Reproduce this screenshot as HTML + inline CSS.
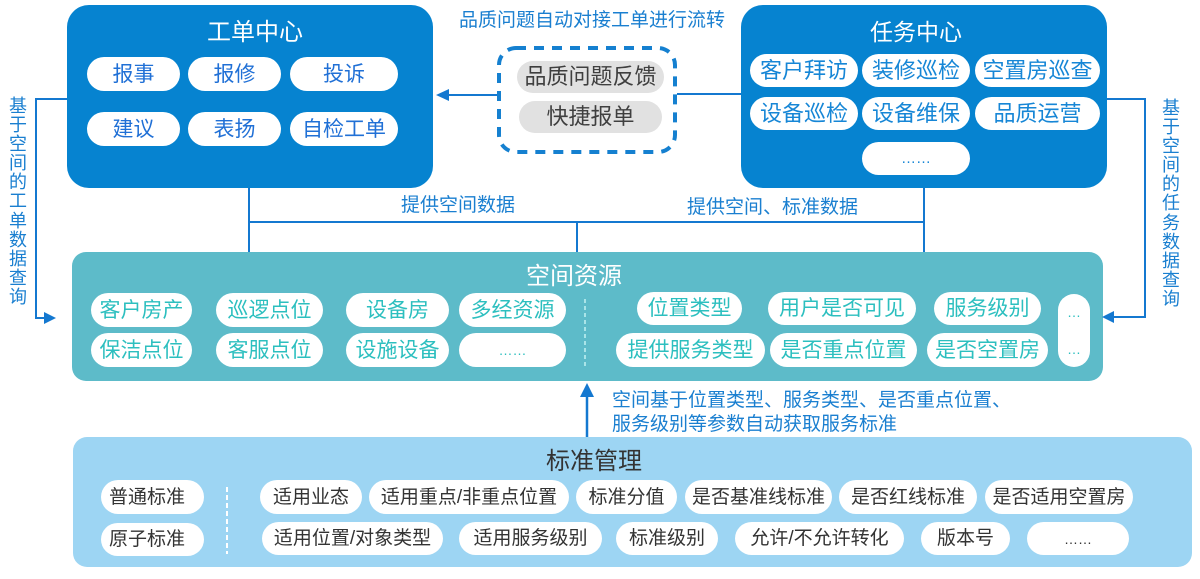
<!DOCTYPE html>
<html lang="zh-CN">
<head>
<meta charset="utf-8">
<style>
  html,body{margin:0;padding:0;background:#fff;}
  #c{position:relative;width:1200px;height:579px;overflow:hidden;background:#fff;
     font-family:"Liberation Sans","Noto Sans CJK SC",sans-serif;}
  .box{position:absolute;}
  .p{position:absolute;display:flex;align-items:center;justify-content:center;
     background:#fff;border-radius:999px;white-space:nowrap;line-height:1;}
  .t{position:absolute;display:flex;align-items:center;justify-content:center;white-space:nowrap;line-height:1;}
  .wb .p{color:#2070d6;font-size:21px;}
  .tb .p{color:#1686d6;font-size:22px;}
  .gp{background:#e1e1e1 !important;color:#3f3f3f;font-size:22px;}
  .sp .p{color:#2cbfbf;font-size:21px;}
  .st .p{color:#333;font-size:19px;}
  .vt{position:absolute;width:22px;font-size:18px;line-height:19.1px;color:#1a7fd0;text-align:center;}
  .lbl{position:absolute;color:#1a7fd0;font-size:19px;line-height:1;white-space:nowrap;}
  svg{position:absolute;left:0;top:0;}
</style>
</head>
<body>
<div id="c">
  <!-- big boxes -->
  <div class="box" style="left:67px;top:5px;width:366px;height:183px;background:#0683d0;border-radius:22px;"></div>
  <div class="box" style="left:741px;top:5px;width:366px;height:183px;background:#0683d0;border-radius:22px;"></div>
  <div class="box" style="left:72px;top:252px;width:1031px;height:129px;background:#5dbbc9;border-radius:14px;"></div>
  <div class="box" style="left:73px;top:437px;width:1119px;height:130px;background:#9dd5f3;border-radius:14px;"></div>

  <svg width="1200" height="579" viewBox="0 0 1200 579">
    <g stroke="#1478d0" stroke-width="2" fill="none">
      <polyline points="67,99 36,99 36,318 46,318"/>
      <polyline points="1107,99 1145,99 1145,317 1112,317"/>
      <line x1="497" y1="95" x2="446" y2="95"/>
      <line x1="677" y1="94" x2="741" y2="94"/>
      <line x1="249" y1="188" x2="249" y2="252"/>
      <line x1="249" y1="222" x2="924" y2="222"/>
      <line x1="577" y1="222" x2="577" y2="252"/>
      <line x1="924" y1="188" x2="924" y2="252"/>
      <line x1="587" y1="437" x2="587" y2="394" stroke-width="2.5"/>
    </g>
    <g fill="#1478d0">
      <polygon points="56,318 44,312 44,324"/>
      <polygon points="1102,317 1114,311 1114,323"/>
      <polygon points="436,95 449,89 449,101"/>
      <polygon points="587,383 580,397 594,397"/>
    </g>
    <rect x="499" y="48" width="176" height="104" rx="17" ry="17" fill="none"
          stroke="#1580d0" stroke-width="4" stroke-dasharray="10 8"/>
    <line x1="585" y1="299" x2="585" y2="369" stroke="#a9e4e8" stroke-width="2" stroke-dasharray="4 3"/>
    <line x1="227" y1="487" x2="227" y2="554" stroke="#ffffff" stroke-width="2" stroke-dasharray="5 3"/>
  </svg>

  <!-- titles -->
  <div class="t" style="left:155px;top:20px;width:200px;height:26px;color:#fff;font-size:24px;">工单中心</div>
  <div class="t" style="left:816px;top:19px;width:200px;height:26px;color:#fff;font-size:23px;">任务中心</div>
  <div class="t" style="left:474px;top:264px;width:200px;height:26px;color:#fff;font-size:24px;">空间资源</div>
  <div class="t" style="left:494px;top:449px;width:200px;height:26px;color:#333;font-size:24px;">标准管理</div>

  <!-- labels -->
  <div class="lbl" style="left:459px;top:11px;">品质问题自动对接工单进行流转</div>
  <div class="lbl" style="left:401px;top:196px;font-size:19px;">提供空间数据</div>
  <div class="lbl" style="left:687px;top:198px;font-size:19px;">提供空间、标准数据</div>
  <div class="lbl" style="left:612px;top:391px;">空间基于位置类型、服务类型、是否重点位置、</div>
  <div class="lbl" style="left:612px;top:415px;">服务级别等参数自动获取服务标准</div>

  <div class="vt" style="left:7px;top:97px;">基<br>于<br>空<br>间<br>的<br>工<br>单<br>数<br>据<br>查<br>询</div>
  <div class="vt" style="left:1160px;top:99px;">基<br>于<br>空<br>间<br>的<br>任<br>务<br>数<br>据<br>查<br>询</div>

  <!-- 工单中心 pills -->
  <div class="wb">
    <div class="p" style="left:87px;top:57px;width:93px;height:34px;">报事</div>
    <div class="p" style="left:188px;top:57px;width:93px;height:34px;">报修</div>
    <div class="p" style="left:290px;top:57px;width:108px;height:34px;">投诉</div>
    <div class="p" style="left:87px;top:112px;width:93px;height:34px;">建议</div>
    <div class="p" style="left:188px;top:112px;width:93px;height:34px;">表扬</div>
    <div class="p" style="left:290px;top:112px;width:108px;height:34px;">自检工单</div>
  </div>

  <!-- 任务中心 pills -->
  <div class="tb">
    <div class="p" style="left:750px;top:54px;width:108px;height:33px;">客户拜访</div>
    <div class="p" style="left:862px;top:54px;width:108px;height:33px;">装修巡检</div>
    <div class="p" style="left:975px;top:54px;width:125px;height:33px;">空置房巡查</div>
    <div class="p" style="left:750px;top:97px;width:108px;height:33px;">设备巡检</div>
    <div class="p" style="left:862px;top:97px;width:108px;height:33px;">设备维保</div>
    <div class="p" style="left:975px;top:97px;width:125px;height:33px;">品质运营</div>
    <div class="p" style="left:862px;top:142px;width:108px;height:33px;font-size:15px;">……</div>
  </div>

  <!-- gray pills -->
  <div class="p gp" style="left:517px;top:61px;width:147px;height:32px;">品质问题反馈</div>
  <div class="p gp" style="left:519px;top:101px;width:143px;height:32px;">快捷报单</div>

  <!-- 空间资源 pills -->
  <div class="sp">
    <div class="p" style="left:91px;top:293px;width:101px;height:34px;">客户房产</div>
    <div class="p" style="left:216px;top:293px;width:107px;height:34px;">巡逻点位</div>
    <div class="p" style="left:346px;top:293px;width:103px;height:34px;">设备房</div>
    <div class="p" style="left:459px;top:293px;width:107px;height:34px;">多经资源</div>
    <div class="p" style="left:91px;top:333px;width:101px;height:34px;">保洁点位</div>
    <div class="p" style="left:216px;top:333px;width:107px;height:34px;">客服点位</div>
    <div class="p" style="left:346px;top:333px;width:103px;height:34px;">设施设备</div>
    <div class="p" style="left:459px;top:333px;width:107px;height:34px;font-size:14px;">……</div>

    <div class="p" style="left:637px;top:292px;width:105px;height:33px;">位置类型</div>
    <div class="p" style="left:768px;top:292px;width:148px;height:33px;">用户是否可见</div>
    <div class="p" style="left:934px;top:292px;width:107px;height:33px;">服务级别</div>
    <div class="p" style="left:616px;top:333px;width:149px;height:34px;">提供服务类型</div>
    <div class="p" style="left:770px;top:333px;width:147px;height:34px;">是否重点位置</div>
    <div class="p" style="left:927px;top:333px;width:121px;height:34px;">是否空置房</div>
    <div class="p" style="left:1058px;top:294px;width:32px;height:73px;border-radius:16px;flex-direction:column;justify-content:space-around;font-size:14px;">
      <span>…</span><span>…</span>
    </div>
  </div>

  <!-- 标准管理 pills -->
  <div class="st">
    <div class="p" style="left:101px;top:480px;width:103px;height:34px;justify-content:flex-start;padding-left:8px;box-sizing:border-box;">普通标准</div>
    <div class="p" style="left:101px;top:523px;width:103px;height:33px;justify-content:flex-start;padding-left:8px;box-sizing:border-box;">原子标准</div>

    <div class="p" style="left:260px;top:480px;width:102px;height:34px;">适用业态</div>
    <div class="p" style="left:369px;top:480px;width:200px;height:34px;">适用重点/非重点位置</div>
    <div class="p" style="left:576px;top:480px;width:101px;height:34px;">标准分值</div>
    <div class="p" style="left:685px;top:480px;width:147px;height:34px;">是否基准线标准</div>
    <div class="p" style="left:839px;top:480px;width:138px;height:34px;">是否红线标准</div>
    <div class="p" style="left:985px;top:480px;width:148px;height:34px;">是否适用空置房</div>

    <div class="p" style="left:262px;top:522px;width:181px;height:33px;">适用位置/对象类型</div>
    <div class="p" style="left:459px;top:522px;width:143px;height:33px;">适用服务级别</div>
    <div class="p" style="left:616px;top:522px;width:102px;height:33px;">标准级别</div>
    <div class="p" style="left:735px;top:522px;width:169px;height:33px;">允许/不允许转化</div>
    <div class="p" style="left:921px;top:522px;width:89px;height:33px;">版本号</div>
    <div class="p" style="left:1027px;top:522px;width:102px;height:33px;font-size:14px;">……</div>
  </div>
</div>
</body>
</html>
